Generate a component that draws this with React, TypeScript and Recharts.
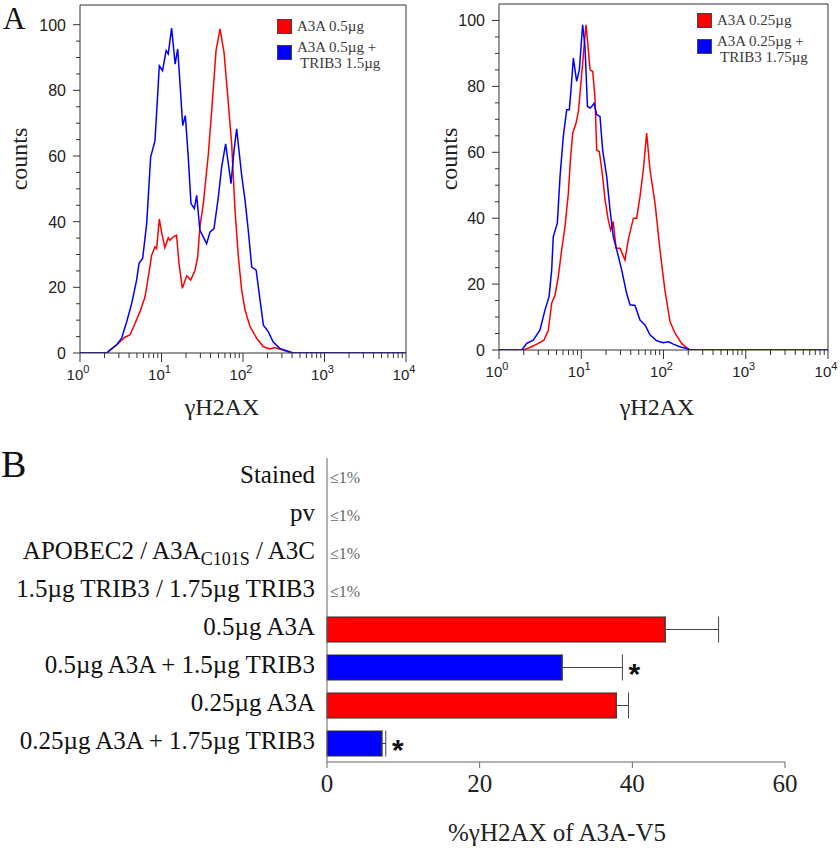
import React from "react";
import {
  Bar,
  BarChart,
  ErrorBar,
  Label,
  Legend,
  Line,
  LineChart,
  ReferenceLine,
  XAxis,
  YAxis,
} from "recharts";

const SERIF = '"Liberation Serif", "Times New Roman", serif';
const SANS = '"Liberation Sans", Arial, sans-serif';
const RED = "#ff0000";
const BLUE = "#0000ff";

// ---- panel A: gammaH2AX histograms, [intensity, counts] ----
const leftRed: [number, number][] = [
  [1, 0], [2.14, 0], [2.33, 0.9], [2.95, 2.9], [3.56, 4.8], [4.1, 5.5], [4.73, 9], [5.45, 12.6],
  [6.28, 17.1], [6.89, 23.2], [7.57, 29.8], [8.32, 32.3], [8.71, 31.8], [9.4, 40.8], [10, 36.9],
  [11, 32.1], [12.1, 35.1], [12.7, 34.3], [14, 35.4], [15.3, 35.9], [16.4, 27.3], [18, 19.7],
  [20.4, 23.5], [22.8, 22.2], [25.8, 25.2], [27.8, 29.3], [29.6, 38.4], [32.6, 45.5], [37.6, 60.7],
  [41.3, 73.9], [46.7, 92.1], [52.2, 98.7], [58.5, 91.6], [64.6, 79], [72.6, 63.7], [79.8, 43.5],
  [87.7, 29.3], [96.4, 19.1], [106, 13.1], [122, 8], [147, 4.5], [178, 1.9], [214, 1.2], [245, 1.7],
  [327, 0.7], [398, 0], [10000, 0],
];
const leftBlue: [number, number][] = [
  [1, 0], [2.14, 0], [2.33, 0.9], [2.82, 2.5], [3.24, 4.5], [3.74, 9.5], [4.31, 15.1], [4.95, 22.2],
  [5.3, 27.3], [5.87, 28.8], [6.58, 39.4], [7.36, 59.7], [8.32, 64.7], [8.89, 76.9], [9.4, 87.5],
  [10.3, 86], [11.4, 92.1], [12.1, 91.1], [13.3, 99], [14.7, 88], [15.8, 92.6], [17.2, 78.9],
  [18.2, 69.3], [19.6, 72.3], [21.3, 59.7], [23, 45.5], [25.3, 44], [27, 48], [29.6, 37.4],
  [35.8, 33.3], [39.4, 36.9], [44.1, 37.9], [49.8, 47.5], [54.7, 56.6], [61.2, 63.7], [66.1, 57.6],
  [71.3, 51.6], [77.6, 61.7], [83.6, 68.3], [96.4, 54], [106, 46.5], [116, 37.4], [128, 26.2],
  [145, 25.2], [158, 18.1], [178, 8.5], [204, 6.5], [234, 3.4], [282, 1.4], [372, 0.4], [417, 0],
  [10000, 0],
];
const rightRed: [number, number][] = [
  [1, 0], [1.89, 0], [2.07, 0.2], [2.49, 1], [3.01, 2], [3.52, 3], [3.98, 6], [4.37, 14.2],
  [4.8, 16.7], [5.26, 22.3], [5.78, 30.4], [6.34, 37.4], [6.97, 47.6], [7.43, 58.7], [7.87, 65.8],
  [8.63, 68.8], [9.23, 72.4], [9.66, 77.9], [10.4, 87], [11.4, 98.7], [12, 93.1], [12.8, 85],
  [13.8, 84.5], [14.7, 76.4], [15.4, 60.7], [16.6, 60.2], [18.2, 52.6], [19.5, 45.5], [21.3, 39.5],
  [22.8, 36.4], [24.5, 39], [26.5, 30.9], [29.6, 30.9], [34, 27.3], [37.3, 33.4], [43, 40],
  [47.2, 40], [51.8, 46.6], [56.9, 54.7], [62.4, 65.8], [68.5, 54.7], [78.9, 44.5], [90.6, 30.4],
  [104, 18.2], [120, 8.6], [138, 5.1], [166, 2], [200, 0.3], [214, 0], [10000, 0],
];
const rightBlue: [number, number][] = [
  [1, 0], [1.89, 0], [2.17, 2], [2.61, 3], [3.15, 6.1], [3.62, 12.1], [4.06, 16.2], [4.37, 24.3],
  [4.57, 34.4], [5.12, 38.5], [5.52, 52.6], [6.05, 64.8], [6.65, 72.9], [7.16, 72.9], [7.5, 78.9],
  [8.02, 88.6], [8.79, 81.5], [9.48, 85], [10.4, 98.7], [11.1, 92.1], [11.9, 73.9], [12.8, 73.4],
  [13.4, 73.9], [14.3, 74.9], [15.4, 71.4], [16.9, 70.9], [18.2, 60.7], [20.4, 52.6], [22.4, 42.5],
  [24.5, 34.4], [27, 30.4], [31, 24.3], [35.6, 17.2], [39.2, 13.7], [45, 13.5], [51.8, 9.1],
  [59.6, 7.6], [68.5, 4.6], [82.6, 2.8], [99.5, 2.2], [115, 2.5], [132, 1.8], [158, 1], [200, 0.3],
  [214, 0], [10000, 0],
];
const leftNames = ["A3A 0.5µg", "A3A 0.5µg +\nTRIB3 1.5µg"];
const rightNames = ["A3A 0.25µg", "A3A 0.25µg +\nTRIB3 1.75µg"];

const decades = [1, 10, 100, 1000, 10000];
const minorSteps = [2, 3, 4, 5, 6, 7, 8, 9];
const countTicks = [0, 5, 10, 15, 20, 25, 30, 35, 40, 45, 50, 55, 60, 65, 70, 75, 80, 85, 90, 95, 100];

// ---- panel B: % gammaH2AX positive among A3A-V5 cells ----
const groups = [
  "Stained",
  "pv",
  "APOBEC2 / A3A_{C101S} / A3C",
  "1.5µg TRIB3 / 1.75µg TRIB3",
  "0.5µg A3A",
  "0.5µg A3A + 1.5µg TRIB3",
  "0.25µg A3A",
  "0.25µg A3A + 1.75µg TRIB3",
];
const percent = [0, 0, 0, 0, 44.3, 30.8, 37.9, 7.2];
const sem = [null, null, null, null, 7.0, 7.9, 1.6, 0.5];
const notes = ["≤1%", "≤1%", "≤1%", "≤1%", "", "", "", ""];
const starred = [false, false, false, false, false, true, false, true];
const treatment = ["none", "none", "none", "none", "A3A", "A3A+TRIB3", "A3A", "A3A+TRIB3"];
const percentTicks = [0, 20, 40, 60];

const logTicks = decades.flatMap((d) => (d < 10000 ? [d, ...minorSteps.map((m) => m * d)] : [d]));
const toPoints = (pairs: [number, number][]) => pairs.map(([x, y]) => ({ x, y }));

function LogTick({ x, y, payload }: any) {
  const exp = Math.log10(payload.value);
  const major = Math.abs(exp - Math.round(exp)) < 1e-6;
  return (
    <g>
      <line x1={x} x2={x} y1={y} y2={y + (major ? 9 : 5)} stroke="#333" />
      {major && (
        <text x={x - 2} y={y + 27} textAnchor="middle" fontFamily={SANS} fontSize={15} fill="#222">
          10
          <tspan dy={-7} fontSize={11}>
            {Math.round(exp)}
          </tspan>
        </text>
      )}
    </g>
  );
}

function CountTick({ x, y, payload }: any) {
  const major = payload.value % 20 === 0;
  return (
    <g>
      <line x1={x - (major ? 7 : 4)} x2={x} y1={y} y2={y} stroke="#333" />
      {major && (
        <text x={x - 14} y={y + 6} textAnchor="end" fontFamily={SANS} fontSize={16} fill="#222">
          {payload.value}
        </text>
      )}
    </g>
  );
}

function SquareLegend({ payload }: any) {
  return (
    <div style={{ fontFamily: SERIF, fontSize: 15, lineHeight: "16px", color: "#3a3a3a", whiteSpace: "nowrap" }}>
      {(payload || []).map((entry: any, i: number) => {
        const lines = String(entry.value).split("\n");
        return (
          <div key={i} style={{ display: "flex", alignItems: "flex-start", marginTop: i ? 5 : 0 }}>
            <span
              style={{
                width: 15,
                height: 15,
                boxSizing: "border-box",
                background: entry.color,
                border: "1px solid #444",
                marginTop: lines.length > 1 ? 6 : 1,
                marginRight: 5,
                flex: "none",
              }}
            />
            <span>
              {lines.map((l, j) => (
                <div key={j} style={{ paddingLeft: j ? 3 : 0 }}>
                  {l}
                </div>
              ))}
            </span>
          </div>
        );
      })}
    </div>
  );
}

type HistProps = {
  red: [number, number][];
  blue: [number, number][];
  names: string[];
  yMax: number;
  margin: { top: number; right: number; bottom: number; left: number };
  yAxisWidth: number;
  xAxisHeight: number;
  legendAt: { left: number; top: number };
  countsAt: { x: number; y: number };
  titleAt: { x: number; y: number };
};

function Histogram(p: HistProps) {
  return (
    <LineChart width={420} height={420} margin={p.margin}>
      <XAxis
        dataKey="x"
        type="number"
        scale="log"
        domain={[1, 10000]}
        ticks={logTicks}
        interval={0}
        tickSize={0}
        tickMargin={0}
        tickLine={false}
        tick={(t: any) => <LogTick {...t} />}
        height={p.xAxisHeight}
        axisLine={{ stroke: "#333" }}
        allowDataOverflow
      >
        <Label
          content={() => (
            <text x={p.titleAt.x} y={p.titleAt.y} textAnchor="middle" fontFamily={SERIF} fontSize={24} fill="#222">
              γH2AX
            </text>
          )}
        />
      </XAxis>
      <YAxis
        type="number"
        domain={[0, p.yMax]}
        ticks={countTicks}
        interval={0}
        tickSize={0}
        tickMargin={0}
        tickLine={false}
        tick={(t: any) => <CountTick {...t} />}
        width={p.yAxisWidth}
        axisLine={{ stroke: "#333" }}
        allowDataOverflow
      >
        <Label
          content={() => (
            <text
              x={p.countsAt.x}
              y={p.countsAt.y}
              textAnchor="middle"
              transform={`rotate(-90, ${p.countsAt.x}, ${p.countsAt.y})`}
              fontFamily={SERIF}
              fontSize={24}
              fill="#222"
            >
              counts
            </text>
          )}
        />
      </YAxis>
      <ReferenceLine y={p.yMax} stroke="#333" />
      <ReferenceLine x={10000} stroke="#333" />
      <Line
        data={toPoints(p.red)}
        dataKey="y"
        name={p.names[0]}
        type="linear"
        stroke={RED}
        strokeWidth={1.5}
        dot={false}
        isAnimationActive={false}
      />
      <Line
        data={toPoints(p.blue)}
        dataKey="y"
        name={p.names[1]}
        type="linear"
        stroke={BLUE}
        strokeWidth={1.5}
        dot={false}
        isAnimationActive={false}
      />
      <Legend
        content={(lp: any) => <SquareLegend {...lp} />}
        layout="vertical"
        align="center"
        verticalAlign="middle"
        wrapperStyle={{ left: p.legendAt.left, top: p.legendAt.top, width: 140 }}
      />
    </LineChart>
  );
}

const rows = groups.map((name, i) => ({
  name,
  value: percent[i],
  err: sem[i] == null ? undefined : [0, sem[i] as number],
  note: notes[i],
  star: starred[i],
  kind: treatment[i],
}));

// category label; the "≤1%" notes sit just right of the axis line (12px right of the tick anchor)
function GroupTick({ x, y, payload }: any) {
  const label = String(payload.value);
  const m = /^(.*)_\{(.+?)\}(.*)$/.exec(label);
  const row = rows.find((r) => r.name === label);
  return (
    <g>
      <text x={x} y={y + 6} textAnchor="end" fontFamily={SERIF} fontSize={25} fill="#111">
        {m ? (
          <>
            {m[1]}
            <tspan dy={6} fontSize={18}>
              {m[2]}
            </tspan>
            <tspan dy={-6}>{m[3]}</tspan>
          </>
        ) : (
          label
        )}
      </text>
      {row && row.note ? (
        <text x={x + 15} y={y + 6} fontFamily={SERIF} fontSize={16} fill="#666">
          {row.note}
        </text>
      ) : null}
    </g>
  );
}

function MarkedBar(props: any) {
  const { x, y, width, height, payload } = props;
  if (!payload || !(width > 0)) return null;
  const fill = payload.kind === "A3A" ? RED : BLUE;
  let star = null;
  if (payload.star && payload.err) {
    const pxPerUnit = width / payload.value;
    const cx = x + pxPerUnit * (payload.value + payload.err[1]) + 12;
    star = (
      <text
        x={cx}
        y={y + height / 2 + 16}
        textAnchor="middle"
        fontFamily={SANS}
        fontSize={30}
        fontWeight="bold"
        fill="#111"
      >
        *
      </text>
    );
  }
  return (
    <g>
      <rect x={x} y={y} width={width} height={height} fill={fill} stroke="#2a2a2a" strokeWidth={1} />
      {star}
    </g>
  );
}

function PercentBars() {
  return (
    <BarChart
      layout="vertical"
      width={840}
      height={428}
      data={rows}
      margin={{ top: 38, right: 55, bottom: 6, left: 0 }}
      barSize={25}
    >
      <XAxis
        type="number"
        domain={[0, 60]}
        ticks={percentTicks}
        interval={0}
        tickSize={6}
        tickMargin={6}
        height={80}
        axisLine={{ stroke: "#666" }}
        tickLine={{ stroke: "#666" }}
        tick={{ fontFamily: SERIF, fontSize: 25, fill: "#222" }}
      >
        <Label
          content={() => (
            <text x={557} y={421} textAnchor="middle" fontFamily={SERIF} fontSize={25} fill="#222">
              %γH2AX of A3A-V5
            </text>
          )}
        />
      </XAxis>
      <YAxis
        type="category"
        dataKey="name"
        width={327}
        interval={0}
        tickLine={false}
        tickSize={0}
        tickMargin={12}
        axisLine={{ stroke: "#666" }}
        tick={(t: any) => <GroupTick {...t} />}
      />
      <Bar dataKey="value" isAnimationActive={false} shape={(s: any) => <MarkedBar {...s} />}>
        <ErrorBar dataKey="err" direction="x" width={13} stroke="#444" strokeWidth={1} />
      </Bar>
    </BarChart>
  );
}

export default function App() {
  return (
    <div style={{ position: "absolute", left: 0, top: 0, width: 840, height: 848, background: "#fff" }}>
      <div style={{ position: "absolute", left: 0, top: 0 }}>
        <Histogram
          red={leftRed}
          blue={leftBlue}
          names={leftNames}
          yMax={106}
          margin={{ top: 5, right: 14, bottom: 7, left: 0 }}
          yAxisWidth={80}
          xAxisHeight={60}
          legendAt={{ left: 277, top: 18 }}
          countsAt={{ x: 27, y: 159 }}
          titleAt={{ x: 222, y: 415 }}
        />
      </div>
      <div style={{ position: "absolute", left: 420, top: 0 }}>
        <Histogram
          red={rightRed}
          blue={rightBlue}
          names={rightNames}
          yMax={105}
          margin={{ top: 4, right: 12, bottom: 7, left: 0 }}
          yAxisWidth={79}
          xAxisHeight={63}
          legendAt={{ left: 277, top: 12 }}
          countsAt={{ x: 37, y: 159 }}
          titleAt={{ x: 237, y: 415 }}
        />
      </div>
      <div style={{ position: "absolute", left: 0, top: 420 }}>
        <PercentBars />
      </div>
      <svg width={840} height={848} style={{ position: "absolute", left: 0, top: 0, pointerEvents: "none" }}>
        <text x={3} y={29} fontFamily={SERIF} fontSize={31} fill="#111">
          A
        </text>
        <text x={1} y={477} fontFamily={SERIF} fontSize={38} fill="#111">
          B
        </text>
      </svg>
    </div>
  );
}
